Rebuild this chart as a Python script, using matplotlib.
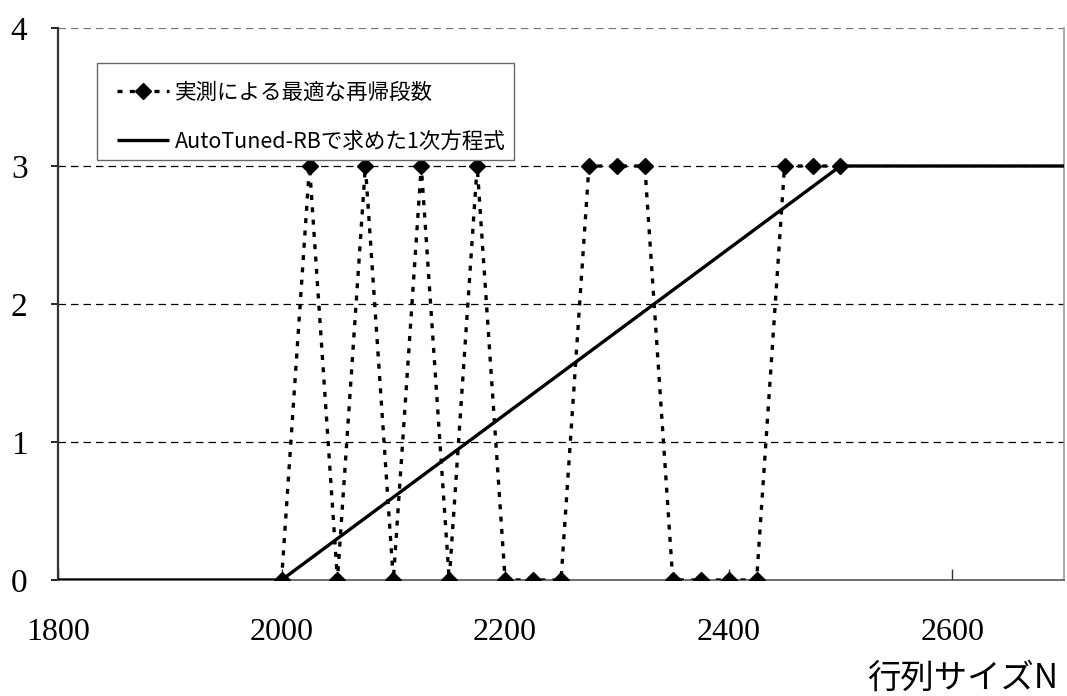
import matplotlib
matplotlib.use("Agg")
import matplotlib.pyplot as plt
from matplotlib.patches import Rectangle

plt.rcParams['font.family'] = ['Noto Sans CJK JP', 'DejaVu Sans']

# Measured optimal recursion depth for each matrix size
measured_n = [2000, 2025, 2050, 2075, 2100, 2125, 2150, 2175, 2200, 2225, 2250,
              2275, 2300, 2325, 2350, 2375, 2400, 2425, 2450, 2475, 2500]
measured_depth = [0, 3, 0, 3, 0, 3, 0, 3, 0, 0, 0,
                  3, 3, 3, 0, 0, 0, 0, 3, 3, 3]

# Linear model obtained by AutoTuned-RB (clamped to 0..3)
model_n = [1800, 2000, 2500, 2700]
model_depth = [0, 0, 3, 3]

x_ticks = [1800, 2000, 2200, 2400, 2600]
y_ticks = [0, 1, 2, 3, 4]

label_measured = '実測による最適な再帰段数'
label_model = 'AutoTuned-RBで求めた1次方程式'
x_label = '行列サイズN'

fig = plt.figure(figsize=(10.67, 6.96), dpi=100)
ax = fig.add_axes([58 / 1067, 116 / 696, (1064 - 58) / 1067, (580 - 28) / 696])

ax.set_xlim(1800, 2700)
ax.set_ylim(0, 4)

# horizontal dashed grid
for y in y_ticks[1:]:
    ax.axhline(y, color='#777777' if y == 4 else 'black', lw=0.9,
               ls=(0, (6, 4)), zorder=1)

ax.plot(measured_n, measured_depth, color='black', lw=2.4,
        ls=(0, (1.5, 2.2)), marker='D', markersize=8,
        label=label_measured, zorder=3)
ax.plot(model_n, model_depth, color='black', lw=2.4, ls='-',
        label=label_model, zorder=4, solid_capstyle='butt')

ax.spines['top'].set_visible(False)
ax.spines['left'].set_color('#333333')
ax.spines['left'].set_linewidth(1.6)
ax.spines['bottom'].set_color('#555555')
ax.spines['bottom'].set_linewidth(1.2)
ax.spines['right'].set_color('#999999')
ax.spines['right'].set_linewidth(1.2)

ax.set_xticks(x_ticks)
ax.set_yticks(y_ticks)
ax.tick_params(axis='x', direction='in', length=8, width=1, pad=27,
               labelsize=23, color='#333333', labelfontfamily='Liberation Serif')
ax.tick_params(axis='y', direction='out', length=5, width=1.2, pad=17,
               labelsize=24, labelfontfamily='Liberation Serif')

# legend frame drawn as a separate box so the inner padding can differ per side
frame = Rectangle((0.0388, 0.7609), 0.4145, 0.1757, transform=ax.transAxes,
                  facecolor='white', edgecolor='#666666', lw=1.0, zorder=5)
ax.add_patch(frame)
leg = ax.legend(loc='upper left', bbox_to_anchor=(0.0586, 0.903),
                borderaxespad=0, borderpad=0, fontsize=15.5, frameon=False,
                handlelength=2.4, handletextpad=0.3, labelspacing=1.27)
leg.set_zorder(6)

fig.text(1058 / 1067, 18 / 696, x_label, ha='right', va='center', fontsize=24)

fig.savefig('out.png', dpi=100)
